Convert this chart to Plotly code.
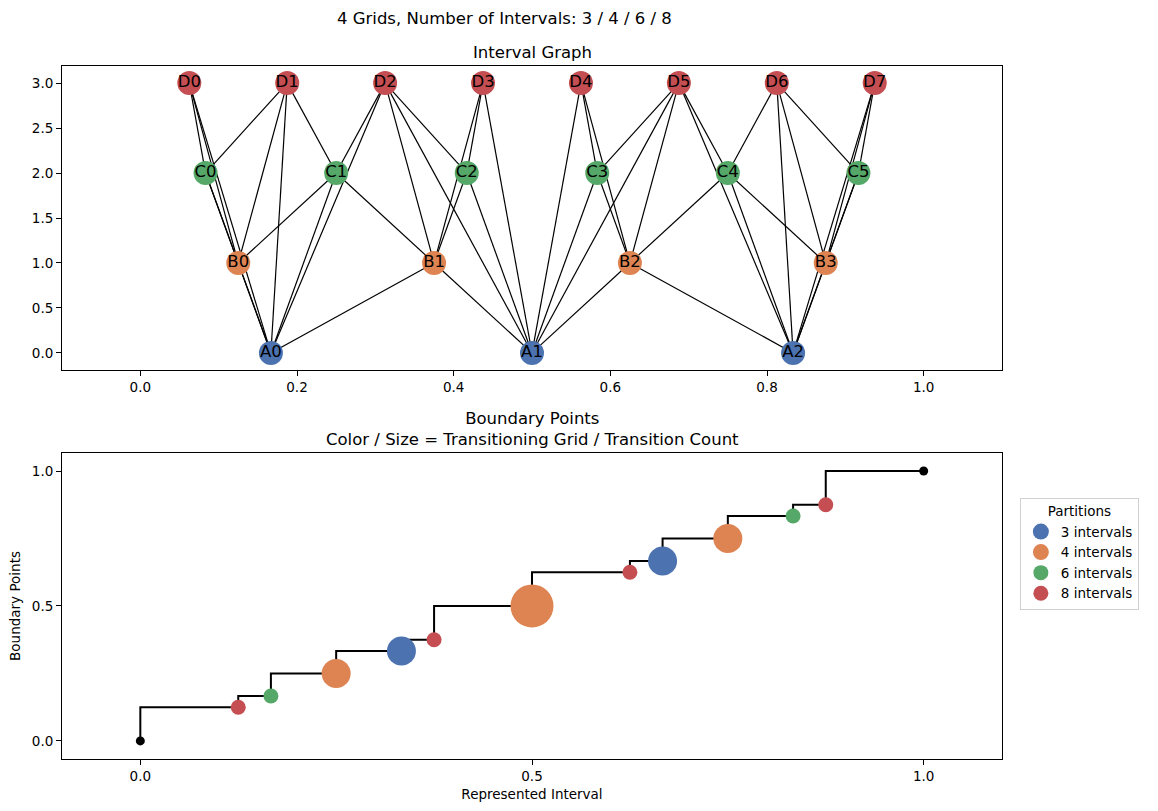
"""Interval graph and boundary points for 4 grids (3 / 4 / 6 / 8 intervals)."""
import plotly.graph_objects as go

# ---- data ------------------------------------------------------------------
node_names = ["A0", "A1", "A2",
              "B0", "B1", "B2", "B3",
              "C0", "C1", "C2", "C3", "C4", "C5",
              "D0", "D1", "D2", "D3", "D4", "D5", "D6", "D7"]
node_x = [0.1667, 0.5, 0.8333,
          0.125, 0.375, 0.625, 0.875,
          0.0833, 0.25, 0.4167, 0.5833, 0.75, 0.9167,
          0.0625, 0.1875, 0.3125, 0.4375, 0.5625, 0.6875, 0.8125, 0.9375]
node_y = [0, 0, 0,
          1, 1, 1, 1,
          2, 2, 2, 2, 2, 2,
          3, 3, 3, 3, 3, 3, 3, 3]
node_grid = ["A"] * 3 + ["B"] * 4 + ["C"] * 6 + ["D"] * 8

edges = [
    ("A0", "B0"), ("A0", "B1"), ("A0", "C0"), ("A0", "C1"),
    ("A0", "D0"), ("A0", "D1"), ("A0", "D2"),
    ("A1", "B1"), ("A1", "B2"), ("A1", "C2"), ("A1", "C3"),
    ("A1", "D2"), ("A1", "D3"), ("A1", "D4"), ("A1", "D5"),
    ("A2", "B2"), ("A2", "B3"), ("A2", "C4"), ("A2", "C5"),
    ("A2", "D5"), ("A2", "D6"), ("A2", "D7"),
    ("B0", "C0"), ("B0", "C1"), ("B0", "D0"), ("B0", "D1"),
    ("B1", "C1"), ("B1", "C2"), ("B1", "D2"), ("B1", "D3"),
    ("B2", "C3"), ("B2", "C4"), ("B2", "D4"), ("B2", "D5"),
    ("B3", "C4"), ("B3", "C5"), ("B3", "D6"), ("B3", "D7"),
    ("C0", "D0"), ("C0", "D1"), ("C1", "D1"), ("C1", "D2"),
    ("C2", "D2"), ("C2", "D3"), ("C3", "D4"), ("C3", "D5"),
    ("C4", "D5"), ("C4", "D6"), ("C5", "D6"), ("C5", "D7"),
]

# boundary points: represented interval -> boundary value
boundary_x = [0.0, 0.125, 0.1667, 0.25, 0.3333, 0.375, 0.5,
              0.625, 0.6667, 0.75, 0.8333, 0.875, 1.0]
boundary_y = [0.0, 0.125, 0.1667, 0.25, 0.3333, 0.375, 0.5,
              0.625, 0.6667, 0.75, 0.8333, 0.875, 1.0]
# transitioning grid (None = end point) and transition count
boundary_grid = [None, "8", "6", "4", "3", "8", "4", "8", "3", "4", "6", "8", None]
boundary_count = [0, 1, 1, 2, 2, 1, 3, 1, 2, 2, 1, 1, 0]

grid_labels = ["3", "4", "6", "8"]

# ---- styles ----------------------------------------------------------------
COLORS = {"A": "#4C72B0", "B": "#DD8452", "C": "#55A868", "D": "#C44E52"}
GRID_COLORS = {"3": "#4C72B0", "4": "#DD8452", "6": "#55A868", "8": "#C44E52"}
COUNT_SIZE = {1: 15, 2: 29, 3: 43}
FONT = "DejaVu Sans"

fig = go.Figure()

# edges
pos = {n: (x, y) for n, x, y in zip(node_names, node_x, node_y)}
ex, ey = [], []
for a, b in edges:
    ex += [pos[a][0], pos[b][0], None]
    ey += [pos[a][1], pos[b][1], None]
fig.add_trace(go.Scatter(x=ex, y=ey, mode="lines", line=dict(color="black", width=1.2),
                         xaxis="x", yaxis="y", showlegend=False, hoverinfo="skip"))

# nodes
fig.add_trace(go.Scatter(
    x=node_x, y=node_y, mode="markers+text", text=node_names,
    textposition="middle center", textfont=dict(family=FONT, size=16.5, color="black"),
    marker=dict(size=24, color=[COLORS[g] for g in node_grid], line=dict(width=0), opacity=1),
    xaxis="x", yaxis="y", showlegend=False, cliponaxis=False,
))

# step line
fig.add_trace(go.Scatter(x=boundary_x, y=boundary_y, mode="lines", line=dict(color="black", width=2, shape="vh"),
                         xaxis="x2", yaxis="y2", showlegend=False, hoverinfo="skip"))

# end points
ends = [i for i, g in enumerate(boundary_grid) if g is None]
fig.add_trace(go.Scatter(x=[boundary_x[i] for i in ends], y=[boundary_y[i] for i in ends],
                         mode="markers", marker=dict(size=9, color="black", opacity=1),
                         xaxis="x2", yaxis="y2", showlegend=False))

# transition points per grid
for g in grid_labels:
    idx = [i for i, v in enumerate(boundary_grid) if v == g]
    fig.add_trace(go.Scatter(
        x=[boundary_x[i] for i in idx], y=[boundary_y[i] for i in idx],
        mode="markers", name=f"{g} intervals",
        marker=dict(size=[COUNT_SIZE[boundary_count[i]] for i in idx], color=GRID_COLORS[g],
                    line=dict(width=0), opacity=1),
        xaxis="x2", yaxis="y2",
    ))

axis_style = dict(showgrid=False, zeroline=False, showline=True, linecolor="black", linewidth=1,
                  mirror=True, ticks="outside", ticklen=5, tickcolor="black",
                  tickfont=dict(family=FONT, size=13.5, color="black"))

fig.update_layout(
    width=1158, height=811,
    margin=dict(l=62, r=156, t=66, b=52),
    plot_bgcolor="white", paper_bgcolor="white",
    font=dict(family=FONT, color="black"),
    xaxis=dict(domain=[0, 1], range=[-0.1, 1.1], tickvals=[0, 0.2, 0.4, 0.6, 0.8, 1.0],
               tickformat=".1f", anchor="y", **axis_style),
    yaxis=dict(domain=[0.5613, 1], range=[-0.19, 3.19], tickvals=[0, 0.5, 1, 1.5, 2, 2.5, 3],
               tickformat=".1f", anchor="x", **axis_style),
    xaxis2=dict(domain=[0, 1], range=[-0.1, 1.1], tickvals=[0, 0.5, 1.0], tickformat=".1f", anchor="y2",
                title=dict(text="Represented Interval", font=dict(family=FONT, size=13.5), standoff=6),
                **axis_style),
    yaxis2=dict(domain=[0, 0.4416], range=[-0.067, 1.067], tickvals=[0, 0.5, 1.0], tickformat=".1f", anchor="x2",
                title=dict(text="Boundary Points", font=dict(family=FONT, size=13.5), standoff=8),
                **axis_style),
    legend=dict(title=dict(text="Partitions", side="top center", font=dict(family=FONT, size=13.5)),
                x=1.019, y=0.377, xanchor="left", yanchor="top",
                bordercolor="#d0d0d0", borderwidth=1, bgcolor="white",
                font=dict(family=FONT, size=13.5), itemsizing="trace", tracegroupgap=0),
    annotations=[
        dict(text="4 Grids, Number of Intervals: 3 / 4 / 6 / 8", xref="paper", yref="paper",
             x=0.471, y=1, yshift=48, showarrow=False, font=dict(family=FONT, size=16.5), yanchor="middle"),
        dict(text="Interval Graph", xref="paper", yref="paper", x=0.5, y=1, yshift=14,
             showarrow=False, font=dict(family=FONT, size=16.5), yanchor="middle"),
        dict(text="Boundary Points<br>Color / Size = Transitioning Grid / Transition Count",
             xref="paper", yref="paper", x=0.5, y=0.4416, yshift=24, showarrow=False,
             font=dict(family=FONT, size=16.5), yanchor="middle"),
    ],
)

# drop the default page margin so the figure sits at the window's top-left corner
fig.write_html("out.html", config={"displayModeBar": False},
               post_script="document.body.style.margin='0';document.body.style.overflow='hidden';")
